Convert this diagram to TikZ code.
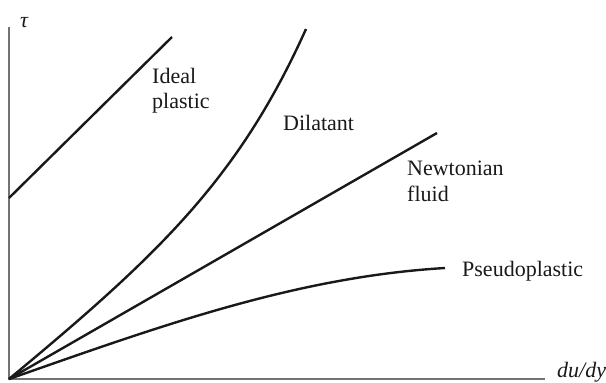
\documentclass[tikz,border=0pt]{standalone}
\usepackage{fontspec}
\setmainfont{Liberation Serif}
\begin{document}
\begin{tikzpicture}[x=1pt,y=-1pt,
  axis/.style={draw=black!55,line width=1.3pt},
  curve/.style={draw=black!90,line width=2.4pt},
  lbl/.style={anchor=base west,inner sep=0pt,text=black!90,font=\fontsize{22}{25}\selectfont}]
\useasboundingbox (0,0) rectangle (606,383);
% axes
\coordinate (O) at (9,379);
\coordinate (ytop) at (9,27);
\coordinate (xend) at (545,379);
\draw[axis] (ytop) -- (O) -- (xend);
\node[lbl,font=\fontsize{22}{25}\selectfont\itshape] (tau) at (20,27) {τ};
\node[lbl,font=\fontsize{22}{25}\selectfont\itshape] (dudy) at (557,377) {du/dy};
% ideal plastic
\coordinate (ip0) at (9,198);
\coordinate (ip1) at (172,37);
\draw[curve] (ip0) -- (ip1);
% dilatant
\coordinate (dil1) at (306,29);
\draw[curve] (O) .. controls (159,254.5) and (238.5,179) .. (dil1);
% newtonian
\coordinate (nw) at (437,133);
\draw[curve] (O) -- (nw);
% pseudoplastic
\coordinate (ps1) at (445,268);
\draw[curve] (O) .. controls (159,326.5) and (295,277) .. (ps1);
% labels
\node[lbl] (ideal) at (152,83) {Ideal};
\node[lbl] (plastic) at (152,108) {plastic};
\node[lbl] (dil) at (283,130) {Dilatant};
\node[lbl] (newt) at (407,175) {Newtonian};
\node[lbl] (fluid) at (407,201) {fluid};
\node[lbl] (pseudo) at (462,276) {Pseudoplastic};
\end{tikzpicture}
\end{document}
